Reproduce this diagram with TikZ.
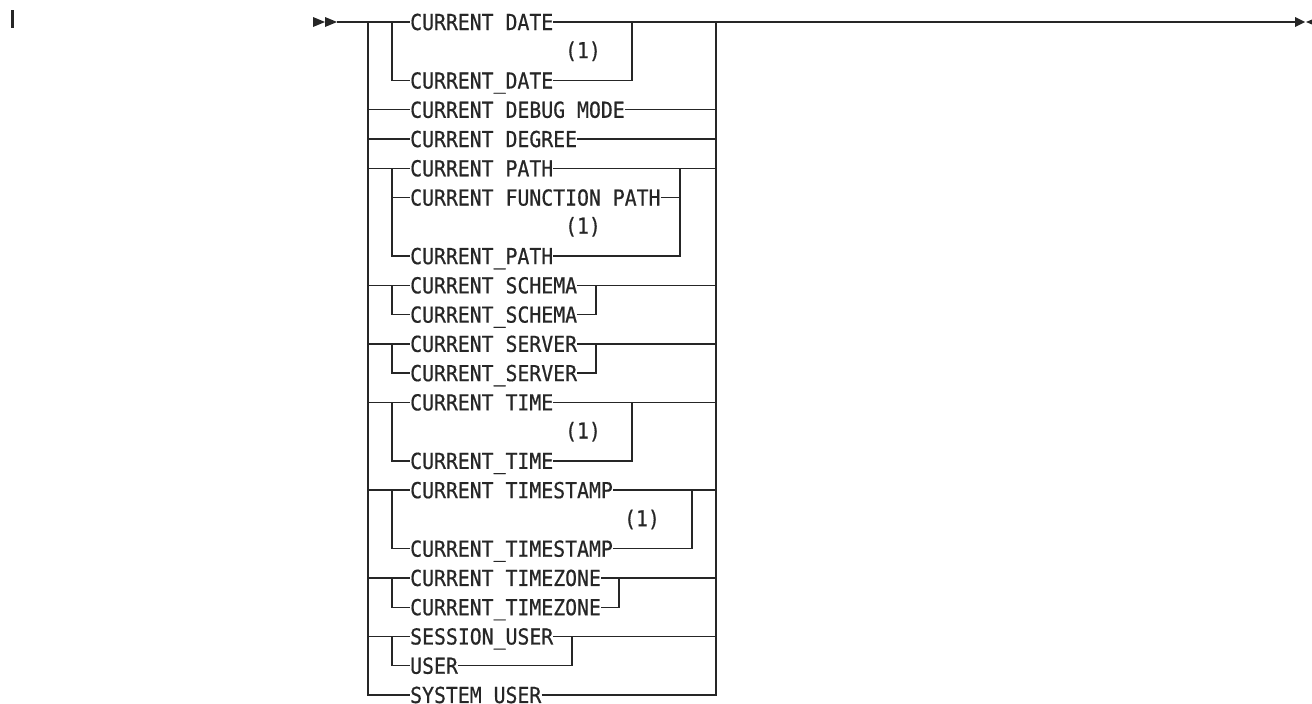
\documentclass[tikz,border=0pt]{standalone}
\usepackage{fontspec}
\newfontfamily\diagmono[FakeStretch=0.9,FakeBold=0.6]{DejaVu Sans Mono}
\definecolor{ink}{rgb}{0.15,0.15,0.15}
\tikzset{
  kw/.style={anchor=west, inner sep=0pt, text height=16pt, text depth=0pt,
    font=\diagmono\fontsize{22}{23}\selectfont, text=ink},
  fn/.style={anchor=center, inner sep=0pt,
    font=\diagmono\fontsize{22}{23}\selectfont, text=ink},
  ln/.style={draw=ink, line width=1.4pt},
  tip/.style={fill=ink, draw=none}
}
\begin{document}
\begin{tikzpicture}[x=1pt,y=-1pt]
\useasboundingbox (0,0) rectangle (1312,704);
\def\ry#1{22+29.26*#1}
% bus coordinates
\coordinate (lb) at (368,22);
\coordinate (ib) at (392,22);
\coordinate (rb) at (716,22);
\coordinate (endtip) at (1295,22);
\coordinate (starttail) at (337,22);
% change bar
\draw[ink, line width=3.5pt] (12.5,10) -- (12.5,28);
% start / end markers
\fill[tip] (313,17) -- (325,22) -- (313,27) -- cycle;
\fill[tip] (325,17) -- (337,22) -- (325,27) -- cycle;
\fill[tip] (1295,17) -- (1305,22) -- (1295,27) -- cycle;
\fill[tip] (1306,22) -- (1318,17) -- (1318,27) -- cycle;
% keyword nodes
\node[kw] (date)   at (410,{\ry{0}}) {CURRENT DATE};
\node[fn] (n1)     at (583,{\ry{1}}) {(1)};
\node[kw] (date_)  at (410,{\ry{2}}) {CURRENT\_DATE};
\node[kw] (debug)  at (410,{\ry{3}}) {CURRENT DEBUG MODE};
\node[kw] (degree) at (410,{\ry{4}}) {CURRENT DEGREE};
\node[kw] (path)   at (410,{\ry{5}}) {CURRENT PATH};
\node[kw] (fpath)  at (410,{\ry{6}}) {CURRENT FUNCTION PATH};
\node[fn] (n2)     at (583,{\ry{7}}) {(1)};
\node[kw] (path_)  at (410,{\ry{8}}) {CURRENT\_PATH};
\node[kw] (schema) at (410,{\ry{9}}) {CURRENT SCHEMA};
\node[kw] (schema_) at (410,{\ry{10}}) {CURRENT\_SCHEMA};
\node[kw] (server) at (410,{\ry{11}}) {CURRENT SERVER};
\node[kw] (server_) at (410,{\ry{12}}) {CURRENT\_SERVER};
\node[kw] (time)   at (410,{\ry{13}}) {CURRENT TIME};
\node[fn] (n3)     at (583,{\ry{14}}) {(1)};
\node[kw] (time_)  at (410,{\ry{15}}) {CURRENT\_TIME};
\node[kw] (tstamp) at (410,{\ry{16}}) {CURRENT TIMESTAMP};
\node[fn] (n4)     at (642,{\ry{17}}) {(1)};
\node[kw] (tstamp_) at (410,{\ry{18}}) {CURRENT\_TIMESTAMP};
\node[kw] (tzone)  at (410,{\ry{19}}) {CURRENT TIMEZONE};
\node[kw] (tzone_) at (410,{\ry{20}}) {CURRENT\_TIMEZONE};
\node[kw] (suser)  at (410,{\ry{21}}) {SESSION\_USER};
\node[kw] (user)   at (410,{\ry{22}}) {USER};
\node[kw] (sysuser) at (410,{\ry{23}}) {SYSTEM USER};
% main line
\draw[ln] (starttail) -- (date.west);
\draw[ln] (rb) -- (endtip);
% main buses
\draw[ln] (lb) |- (sysuser.west);
\draw[ln] (sysuser.east) -| (rb);
% inner right bus x positions
\coordinate (xdate) at (632,0);
\coordinate (xpath) at (680,0);
\coordinate (xschema) at (596,0);
\coordinate (xserver) at (596,0);
\coordinate (xtime) at (632,0);
\coordinate (xtstamp) at (692,0);
\coordinate (xtzone) at (619,0);
\coordinate (xuser) at (572,0);
% groups with two branches
\foreach \a/\b/\x in {date/date_/xdate, path/path_/xpath, schema/schema_/xschema,
    server/server_/xserver, time/time_/xtime, tstamp/tstamp_/xtstamp,
    tzone/tzone_/xtzone, suser/user/xuser}{
  \draw[ln] (\a.west -| lb) -- (\a.west);
  \draw[ln] (\a.east) -- (\a.east -| rb);
  \draw[ln] (\a.west -| ib) |- (\b.west);
  \draw[ln] (\b.east) -| (\a.east -| \x);
}
% middle branch
\draw[ln] (fpath.west -| ib) -- (fpath.west);
\draw[ln] (fpath.east) -- (fpath.east -| xpath);
% single rows
\foreach \a in {debug, degree}{
  \draw[ln] (\a.west -| lb) -- (\a.west);
  \draw[ln] (\a.east) -- (\a.east -| rb);
}
\end{tikzpicture}
\end{document}
